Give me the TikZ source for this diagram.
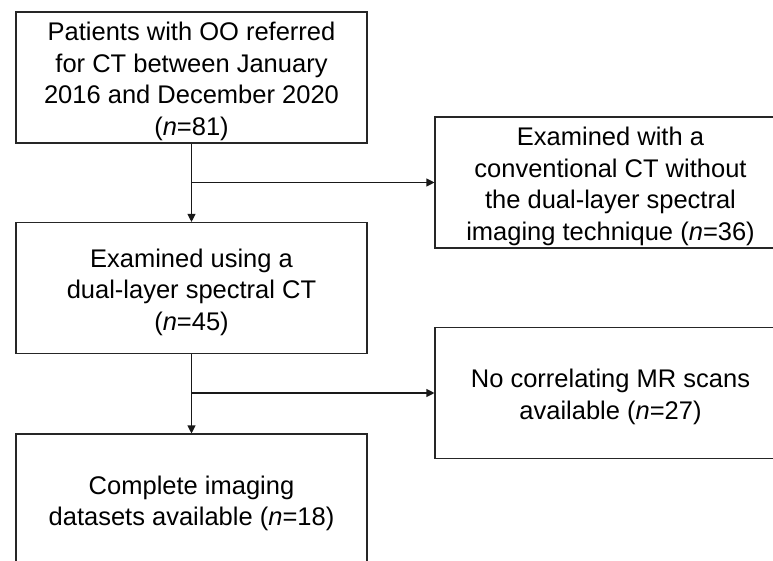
\documentclass[tikz,border=0pt]{standalone}
\usepackage{fontspec}
\setmainfont{Liberation Sans}
\usetikzlibrary{arrows.meta}
\begin{document}
\begin{tikzpicture}[x=1pt,y=-1pt,
  flowbox/.style={draw=black!85, line width=1.1pt, minimum width=351pt, minimum height=131pt,
    inner sep=0pt},
  boxtext/.style={inner sep=0pt, align=center, yshift=-4pt,
    font=\fontsize{25.5}{31.5}\selectfont},
  flowline/.style={draw=black!90, line width=1.1pt},
  flowarrow/.style={flowline, -{Triangle[length=8pt,width=8pt]}}]
  \useasboundingbox (0,0) rectangle (773,561);
  \clip (0,0) rectangle (773,561);
  \fill[white] (0,0) rectangle (773,561);

  \node[flowbox, label={[boxtext]center:{Patients with OO referred\\for CT between January\\2016 and December 2020\\(\textit{n}=81)}}] (b1) at (191.5,77.5) {};
  \node[flowbox, label={[boxtext]center:{Examined with a\\conventional CT without\\the dual-layer spectral\\imaging technique (\textit{n}=36)}}] (b2) at (610.5,182.5) {};
  \node[flowbox, label={[boxtext]center:{Examined using a\\dual-layer spectral CT\\(\textit{n}=45)}}] (b3) at (191.5,288) {};
  \node[flowbox, label={[boxtext]center:{No correlating MR scans\\available (\textit{n}=27)}}] (b4) at (610.5,393) {};
  \node[flowbox, label={[boxtext]center:{Complete imaging\\datasets available (\textit{n}=18)}}] (b5) at (191.5,499.5) {};

  \coordinate (j1) at (b1.south |- b2.west);
  \coordinate (j2) at (b3.south |- b4.west);

  \draw[flowarrow] (b1.south) -- (b3.north);
  \draw[flowarrow] (j1) -- (b2.west);
  \draw[flowarrow] (b3.south) -- (b5.north);
  \draw[flowarrow] (j2) -- (b4.west);
\end{tikzpicture}
\end{document}
